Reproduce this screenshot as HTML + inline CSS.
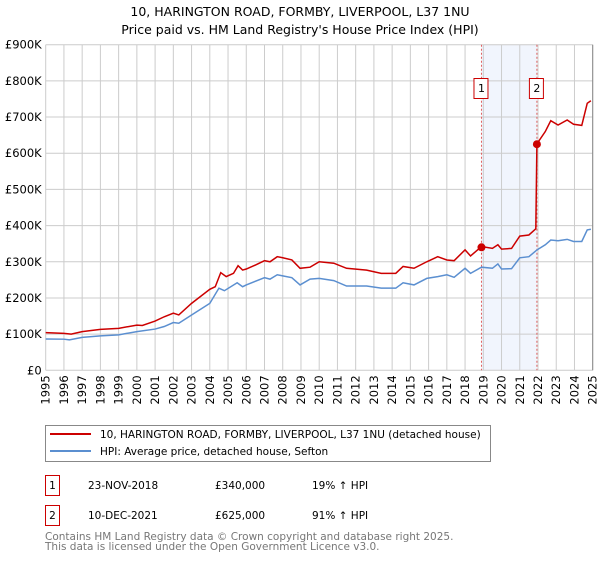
<!DOCTYPE html>
<html><head><meta charset="utf-8"><style>
body{margin:0;background:#fff;width:600px;height:560px;overflow:hidden;font-family:"DejaVu Sans","Liberation Sans",sans-serif;}
svg text{font-family:"DejaVu Sans","Liberation Sans",sans-serif;}
</style></head><body>
<svg id="c" width="600" height="560">
<text x="300" y="16" text-anchor="middle" font-size="12.5" fill="#000">10, HARINGTON ROAD, FORMBY, LIVERPOOL, L37 1NU</text>
<text x="300" y="34" text-anchor="middle" font-size="12.5" fill="#000">Price paid vs. HM Land Registry's House Price Index (HPI)</text>
<g id="grid"></g><g id="plot"></g><g id="axes"></g>
<g>
<rect x="45.5" y="425.5" width="445" height="36" fill="#fff" stroke="#888"/>
<line x1="50" y1="434" x2="91" y2="434" stroke="#cc0000" stroke-width="2"/>
<text x="100" y="438" font-size="10.5">10, HARINGTON ROAD, FORMBY, LIVERPOOL, L37 1NU (detached house)</text>
<line x1="50" y1="451" x2="91" y2="451" stroke="#5b8fd0" stroke-width="2"/>
<text x="100" y="455" font-size="10.5">HPI: Average price, detached house, Sefton</text>
</g>
<g font-size="10.5">
<rect x="45.5" y="475.5" width="14" height="20" fill="#fff" stroke="#cc0000"/>
<text x="52.5" y="489" text-anchor="middle">1</text>
<text x="88" y="489">23-NOV-2018</text><text x="215" y="489">£340,000</text><text x="312" y="489">19% ↑ HPI</text>
<rect x="45.5" y="505.5" width="14" height="20" fill="#fff" stroke="#cc0000"/>
<text x="52.5" y="519" text-anchor="middle">2</text>
<text x="88" y="519">10-DEC-2021</text><text x="215" y="519">£625,000</text><text x="312" y="519">91% ↑ HPI</text>
</g>
<text x="45" y="540" font-size="10.5" fill="#777">Contains HM Land Registry data © Crown copyright and database right 2025.</text>
<text x="45" y="550" font-size="10.5" fill="#777">This data is licensed under the Open Government Licence v3.0.</text>
</svg>
<script>
const hpiYears=[1995,1996,1996.3,1997,1998,1999,2000,2001,2001.5,2002,2002.3,2003,2004,2004.5,2004.8,2005.5,2005.8,2006,2007,2007.3,2007.7,2008,2008.5,2008.95,2009.5,2010,2010.8,2011.5,2012.6,2013.4,2014.2,2014.6,2015.2,2015.9,2016.5,2017,2017.4,2018,2018.3,2018.9,2019.5,2019.8,2020,2020.55,2021,2021.5,2021.95,2022.4,2022.7,2023.1,2023.6,2023.95,2024.4,2024.7,2024.9];
const hpiValues=[86.6,86,84,91,95,98,107,114,121,132,130,153,185,227,220,242,231,236,256,252,264,261,256,236,252,254,248,233,233,227,227,242,236,254,259,264,257,282,268,285,282,294,280,281,311,314,333,347,360,358,362,356,356,388,390];
const priceYears=[1995,1996,1996.4,1997,1998,1999,2000,2000.3,2001,2001.5,2002,2002.3,2003,2004,2004.3,2004.6,2004.9,2005.3,2005.55,2005.8,2006,2006.5,2007,2007.3,2007.7,2008,2008.5,2008.95,2009.5,2010,2010.8,2011.5,2012.6,2013.4,2014.2,2014.6,2015.2,2015.9,2016.5,2017,2017.4,2018,2018.3,2018.9,2019.5,2019.8,2020,2020.55,2021,2021.5,2021.88,2021.94,2022.4,2022.7,2023.1,2023.6,2023.95,2024.4,2024.7,2024.9];
const priceValues=[104,102,100,107,113,116,125,124,136,148,158,153,185,224,231,270,259,268,289,277,280,291,303,300,314,311,305,282,285,300,296,282,277,268,268,287,282,300,314,305,303,333,316,342,337,347,335,337,371,374,391,626,660,690,678,692,680,677,738,745];
const saleLabels=["1","2"];
const saleYears=[2018.9,2021.94];
const salePrices=[340,625];
const yTicks=[0,100,200,300,400,500,600,700,800,900];
const yTickLabels=["£0","£100K","£200K","£300K","£400K","£500K","£600K","£700K","£800K","£900K"];
const xTicks=[1995,1996,1997,1998,1999,2000,2001,2002,2003,2004,2005,2006,2007,2008,2009,2010,2011,2012,2013,2014,2015,2016,2017,2018,2019,2020,2021,2022,2023,2024,2025];

const X0=45.7,X1=592.7,Y0=370.3,Y1=44.7;
const xs=y=>X0+(y-1995)/30*(X1-X0);
const ys=v=>Y0-v/900*(Y0-Y1);
const NS="http://www.w3.org/2000/svg";
function mk(parent,tag,attrs){const e=document.createElementNS(NS,tag);for(const k in attrs)e.setAttribute(k,attrs[k]);document.getElementById(parent).appendChild(e);return e;}

const sh=mk('grid','rect',{x:xs(saleYears[0]),y:Y1,width:xs(saleYears[1])-xs(saleYears[0]),height:Y0-Y1,fill:'#f1f5fd'});


yTicks.forEach((t,i)=>{
 const l=mk('grid','line',{x1:X0,x2:X1,y1:ys(t),y2:ys(t),stroke:'#cccccc'});
 
 
 const tx=mk('axes','text',{x:X0-4,y:ys(t)+4,'text-anchor':'end','font-size':'11.5'});
 tx.textContent=yTickLabels[i];
 
 
});
xTicks.forEach(t=>{
 const l=mk('grid','line',{x1:xs(t),x2:xs(t),y1:Y1,y2:Y0,stroke:'#cccccc'});
 
 
 const tx=mk('axes','text',{x:0,y:0,'text-anchor':'end','font-size':'11.5',transform:`translate(${xs(t)+4},${Y0+5}) rotate(-90)`});
 tx.textContent=String(t);
 
 
});
const ax=mk('axes','line',{x1:X1,x2:X1,y1:Y1,y2:Y0,stroke:'#888'});



saleYears.forEach((y,i)=>{
 const v=mk('plot','line',{x1:xs(y),x2:xs(y),y1:Y1,y2:Y0,stroke:'#e06060','stroke-dasharray':'2,2','stroke-width':1});
 
 
});
const hp=mk('plot','polyline',{points:hpiYears.map((y,i)=>xs(y)+','+ys(hpiValues[i])).join(' '),fill:'none',stroke:'#5b8fd0','stroke-width':1.5});


const pp=mk('plot','polyline',{points:priceYears.map((y,i)=>xs(y)+','+ys(priceValues[i])).join(' '),fill:'none',stroke:'#cc0000','stroke-width':1.5});


saleYears.forEach((y,i)=>{
 const c=mk('plot','circle',{cx:xs(y),cy:ys(salePrices[i]),r:4,fill:'#cc0000'});
 
 
 const r=mk('plot','rect',{x:xs(y)-7.5,y:78.5,width:14,height:20,fill:'#fff',stroke:'#cc0000'});
 
 
 const t=mk('plot','text',{x:xs(y),y:92,'text-anchor':'middle','font-size':'11'});
 t.textContent=saleLabels[i];
 
 
});
</script>
</body></html>
